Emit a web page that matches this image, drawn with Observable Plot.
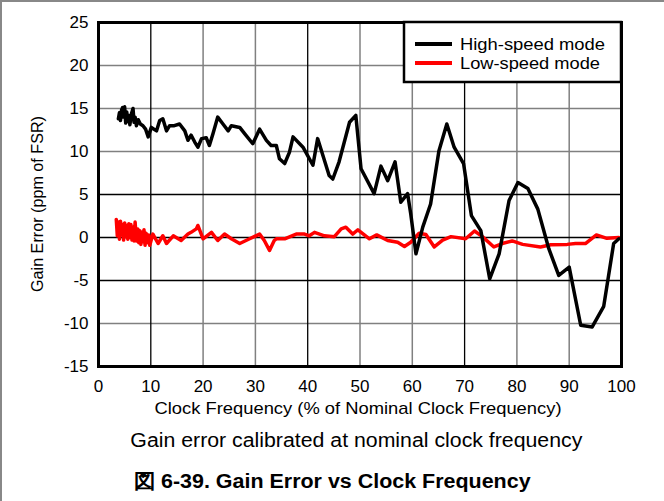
<!DOCTYPE html>
<html>
<head>
<meta charset="utf-8">
<script src="https://cdn.jsdelivr.net/npm/d3@7"></script>
<script src="https://cdn.jsdelivr.net/npm/@observablehq/plot@0.6"></script>
<style>
  html, body { margin: 0; padding: 0; background: #fff; }
  body { width: 664px; height: 501px; box-sizing: border-box; border-top: 2px solid #888; border-left: 2px solid #888; font-family: "Liberation Sans", Arial, sans-serif; overflow: hidden; }
  .row { position: relative; width: 662px; }
  .row span { position: absolute; white-space: nowrap; transform-origin: 50% 50%; color: #000; }
  #caption { height: 42px; }
  #caption span { font-size: 20px; line-height: 40px; }
  #title { height: 38px; }
  #title span { font-size: 20px; font-weight: bold; line-height: 38px; }
</style>
</head>
<body>
<div id="chart"></div>
<div id="caption" class="row"><span>Gain error calibrated at nominal clock frequency</span></div>
<div id="title" class="row"><span>図 6-39. Gain Error vs Clock Frequency</span></div>
<script>
const xTicks = [0, 10, 20, 30, 40, 50, 60, 70, 80, 90, 100];
const yTicks = [-15, -10, -5, 0, 5, 10, 15, 20, 25];
const darkGridX = [10, 40, 70];
const darkGridY = [-5, 0, 5];
const seriesNames = ["High-speed mode", "Low-speed mode"];
const seriesColors = ["#000000", "#ff0000"];
const xLabel = "Clock Frequency (% of Nominal Clock Frequency)";
const yLabel = "Gain Error (ppm of FSR)";

const highSpeed = [[3.8,13.8],[4.0,14.5],[4.2,13.6],[4.4,14.8],[4.6,15.1],[4.8,14.0],[5.0,15.2],[5.2,13.3],[5.4,14.6],[5.6,13.5],[5.8,14.2],[6.0,13.1],[6.3,14.4],[6.6,15.0],[6.8,13.4],[7.0,14.0],[7.25,13.0],[7.6,13.7],[8.0,13.2],[8.5,13.0],[9.0,12.6],[9.5,11.7],[10.1,12.8],[11.1,12.4],[11.7,13.6],[12.3,13.8],[13.0,12.4],[13.6,13.0],[14.5,13.0],[15.5,13.2],[16.5,12.4],[17.1,11.3],[17.7,11.9],[18.4,11.1],[19.0,10.5],[19.7,11.5],[20.6,11.6],[21.2,10.7],[21.9,12.1],[22.8,14.0],[23.8,13.2],[24.8,12.4],[25.4,13.0],[27.0,12.8],[27.9,12.1],[29.5,10.9],[30.8,12.6],[32.1,11.3],[33.0,10.7],[34.0,10.7],[34.6,9.15],[35.6,8.6],[36.5,9.9],[37.2,11.7],[39.1,10.5],[41.0,8.4],[41.9,11.5],[44.1,7.2],[44.8,6.8],[46.0,8.8],[48.0,13.4],[49.2,14.2],[50.2,8.0],[52.7,5.1],[54.0,8.3],[55.3,6.6],[56.7,8.8],[57.8,4.1],[59.1,5.1],[59.7,2.75],[60.7,-1.9],[62.0,1.2],[63.5,3.9],[65.1,10.1],[66.6,13.2],[68.0,10.5],[69.8,8.6],[71.3,2.55],[73.1,0.8],[74.8,-4.8],[76.6,-1.9],[78.5,4.3],[80.2,6.4],[82.1,5.7],[84.0,3.3],[86.1,-1.3],[88.0,-4.4],[90.0,-3.45],[92.2,-10.2],[94.4,-10.4],[96.6,-8.0],[98.5,-0.7],[99.5,-0.15]];

const lowSpeed = [[3.4,2.1],[3.6,0.2],[3.8,1.8],[4.0,-0.2],[4.2,1.9],[4.4,0.3],[4.6,1.5],[4.8,-0.3],[5.0,1.7],[5.2,0.1],[5.4,1.4],[5.6,-0.2],[5.8,1.6],[6.0,0.0],[6.2,1.5],[6.4,-0.3],[6.6,1.2],[6.8,-0.4],[7.0,1.8],[7.25,-0.4],[7.5,1.0],[7.7,-0.6],[7.9,0.8],[8.1,-0.8],[8.3,0.6],[8.5,-0.5],[8.7,0.9],[8.9,-0.9],[9.1,0.5],[9.4,-0.6],[9.6,0.3],[9.8,-0.9],[10.4,0.4],[11.4,-0.7],[12.3,0.2],[13.0,-0.7],[14.3,0.2],[15.8,-0.35],[17.1,0.4],[17.7,0.6],[18.7,1.0],[19.0,1.4],[20.0,-0.15],[21.6,0.6],[22.8,-0.35],[24.1,0.4],[25.4,-0.15],[27.0,-0.7],[28.9,-0.15],[30.8,0.4],[31.7,-0.35],[32.7,-1.5],[33.6,-0.35],[34.0,-0.15],[35.6,-0.15],[37.8,0.4],[39.4,0.4],[40.3,0.2],[41.3,0.6],[43.2,0.2],[45.1,0.1],[46.4,1.0],[47.3,1.2],[48.6,0.4],[49.6,0.9],[51.8,-0.15],[53.2,0.3],[55.3,-0.35],[57.2,-0.55],[58.5,-1.05],[59.7,-0.55],[61.3,0.5],[62.6,0.35],[64.2,-1.1],[65.8,-0.3],[67.4,0.1],[70.2,-0.15],[71.9,0.75],[73.4,0.1],[75.6,-1.1],[77.2,-0.7],[79.1,-0.4],[81.1,-0.8],[84.5,-1.1],[86.5,-0.85],[89.6,-0.8],[91.2,-0.7],[93.1,-0.7],[95.2,0.3],[97.2,-0.1],[99.5,0.0]];

const chart = Plot.plot({
  width: 662,
  height: 418,
  marginTop: 20,
  marginLeft: 96,
  marginRight: 43,
  marginBottom: 54,
  style: { fontFamily: "'Liberation Sans', Arial, sans-serif", fontSize: "17px", color: "#000", background: "#fff" },
  x: { domain: [0, 100], ticks: xTicks, tickSize: 0, tickPadding: 13, tickFormat: d => String(d), label: null },
  y: { domain: [-15, 25], ticks: yTicks, tickSize: 0, tickPadding: 10, tickFormat: d => String(d), label: null },
  marks: [
    Plot.ruleX(xTicks.filter(d => !darkGridX.includes(d)), { stroke: "#808080", strokeWidth: 1.5 }),
    Plot.ruleY(yTicks.filter(d => !darkGridY.includes(d)), { stroke: "#808080", strokeWidth: 1.5 }),
    Plot.ruleX(darkGridX, { stroke: "#000", strokeWidth: 1.3 }),
    Plot.ruleY(darkGridY, { stroke: "#000", strokeWidth: 1.3 }),
    Plot.line(lowSpeed, { x: d => d[0], y: d => d[1], stroke: seriesColors[1], strokeWidth: 3.5, strokeLinejoin: "round" }),
    Plot.line(highSpeed, { x: d => d[0], y: d => d[1], stroke: seriesColors[0], strokeWidth: 3.5, strokeLinejoin: "round" }),
    Plot.frame({ stroke: "#000", strokeWidth: 3 })
  ]
});
document.getElementById("chart").appendChild(chart);

const svg = d3.select(chart);
// axis titles
svg.append("text").attr("x", 356).attr("y", 406).attr("dy", "0.35em")
  .attr("text-anchor", "middle").attr("font-size", 17).attr("fill", "#000")
  .attr("textLength", 407).attr("lengthAdjust", "spacingAndGlyphs").text(xLabel);
svg.append("text").attr("transform", "translate(35,202) rotate(-90)").attr("dy", "0.35em")
  .attr("text-anchor", "middle").attr("font-size", 17).attr("fill", "#000")
  .attr("textLength", 176).attr("lengthAdjust", "spacingAndGlyphs").text(yLabel);

// legend box in the top-right of the plot frame
const lx = 402, ly = 20, lw = 217, lh = 60;
const g = svg.append("g");
g.append("rect").attr("x", lx).attr("y", ly).attr("width", lw).attr("height", lh)
  .attr("fill", "#fff").attr("stroke", "#000").attr("stroke-width", 2.5);
const legendLens = [145, 140];
seriesNames.forEach((name, i) => {
  const yy = ly + 22 + i * 19;
  g.append("line").attr("x1", lx + 11).attr("x2", lx + 48).attr("y1", yy).attr("y2", yy)
    .attr("stroke", seriesColors[i]).attr("stroke-width", 4);
  g.append("text").attr("x", lx + 56).attr("y", yy).attr("dy", "0.35em")
    .attr("text-anchor", "start").attr("font-size", 16).attr("fill", "#000")
    .attr("textLength", legendLens[i]).attr("lengthAdjust", "spacingAndGlyphs").text(name);
});

// stretch caption/title to the reference widths, centred on given x
function fitSpan(sel, center, targetW) {
  const s = document.querySelector(sel);
  const w = s.getBoundingClientRect().width;
  const k = targetW / w;
  s.style.left = (center - w / 2) + "px";
  s.style.transform = "scaleX(" + k + ")";
}
fitSpan("#caption span", 354, 452);
fitSpan("#title span", 330, 397);
</script>
</body>
</html>
